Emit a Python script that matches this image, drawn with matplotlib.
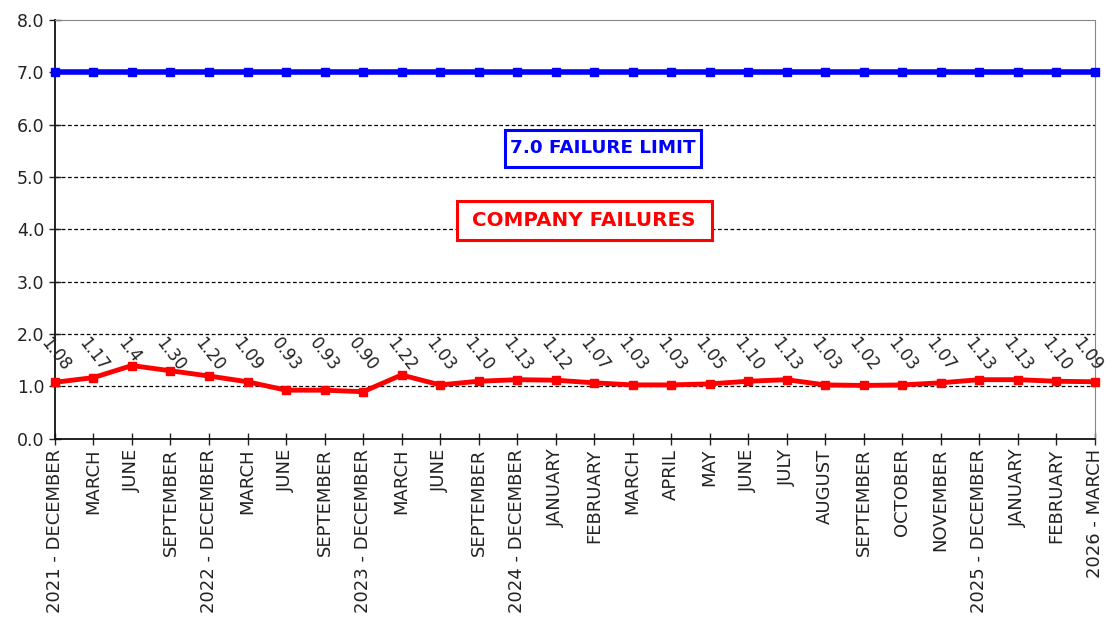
import matplotlib
matplotlib.use("Agg")
import matplotlib.pyplot as plt
from matplotlib.patches import Rectangle

months = ["2021 - DECEMBER", "MARCH", "JUNE", "SEPTEMBER", "2022 - DECEMBER", "MARCH", "JUNE",
          "SEPTEMBER", "2023 - DECEMBER", "MARCH", "JUNE", "SEPTEMBER", "2024 - DECEMBER",
          "JANUARY", "FEBRUARY", "MARCH", "APRIL", "MAY", "JUNE", "JULY", "AUGUST",
          "SEPTEMBER", "OCTOBER", "NOVEMBER", "2025 - DECEMBER", "JANUARY", "FEBRUARY",
          "2026 - MARCH"]
failures = [1.08, 1.17, 1.4, 1.30, 1.20, 1.09, 0.93, 0.93, 0.90, 1.22, 1.03, 1.10, 1.13, 1.12,
            1.07, 1.03, 1.03, 1.05, 1.10, 1.13, 1.03, 1.02, 1.03, 1.07, 1.13, 1.13, 1.10, 1.09]
value_labels = ["1.08", "1.17", "1.4", "1.30", "1.20", "1.09", "0.93", "0.93", "0.90", "1.22",
                "1.03", "1.10", "1.13", "1.12", "1.07", "1.03", "1.03", "1.05", "1.10", "1.13",
                "1.03", "1.02", "1.03", "1.07", "1.13", "1.13", "1.10", "1.09"]
limit = [7.0] * len(months)

plt.rcParams['font.family'] = ['DejaVu Sans']

fig = plt.figure(figsize=(11.08, 6.19), dpi=100)
ax = fig.add_axes([0.0496, 0.291, 0.9384, 0.677])

x = list(range(len(months)))
ax.plot(x, limit, color="#0000ff", lw=4, marker="s", ms=6, zorder=3, clip_on=False)
ax.plot(x, failures, color="#ff0000", lw=3.5, marker="s", ms=6, zorder=3, clip_on=False)

# value labels, tilted, hanging off the 2.0 line
for xi, lab in zip(x, value_labels):
    dx = -8 if xi == x[-1] else -3   # keep the last one inside the picture
    ax.annotate(lab, (xi, 2.0), xytext=(dx, 0), textcoords="offset points",
                rotation=-52, rotation_mode="anchor", ha="left", va="top",
                fontsize=12, color="#222222", annotation_clip=False)

ax.set_xlim(0, len(months) - 1)
ax.set_ylim(0, 8)
ax.set_yticks([0, 1, 2, 3, 4, 5, 6, 7, 8])
ax.set_yticklabels(["%.1f" % v for v in range(9)], fontsize=12.5)
ax.set_xticks(x)
ax.set_xticklabels(months, rotation=90, fontsize=13)
ax.tick_params(axis="both", direction="inout", length=8, width=1, colors="#222222")
ax.tick_params(axis="x", pad=3)

for yv in range(1, 8):
    ax.axhline(yv, color="black", lw=0.9, ls=(0, (3, 2)), zorder=1)

ax.spines["left"].set_color("#111111")
ax.spines["bottom"].set_color("#111111")
ax.spines["left"].set_linewidth(1.3)
ax.spines["bottom"].set_linewidth(1.3)
ax.spines["top"].set_color("#888888")
ax.spines["right"].set_color("#888888")

# label boxes
ax.add_patch(Rectangle((0.4327, 0.649), 0.1885, 0.0883, transform=ax.transAxes,
                       fc="white", ec="#0000ff", lw=2.2, zorder=4))
ax.text(0.527, 0.693, "7.0 FAILURE LIMIT", transform=ax.transAxes, ha="center", va="center",
        color="#0000ff", fontsize=13.2, fontweight="bold", zorder=5)
ax.add_patch(Rectangle((0.3865, 0.475), 0.245, 0.093, transform=ax.transAxes,
                       fc="white", ec="#ff0000", lw=2.2, zorder=4))
ax.text(0.509, 0.5215, "COMPANY FAILURES", transform=ax.transAxes, ha="center", va="center",
        color="#ff0000", fontsize=14.3, fontweight="bold", zorder=5)

fig.savefig("out.png", dpi=100)
